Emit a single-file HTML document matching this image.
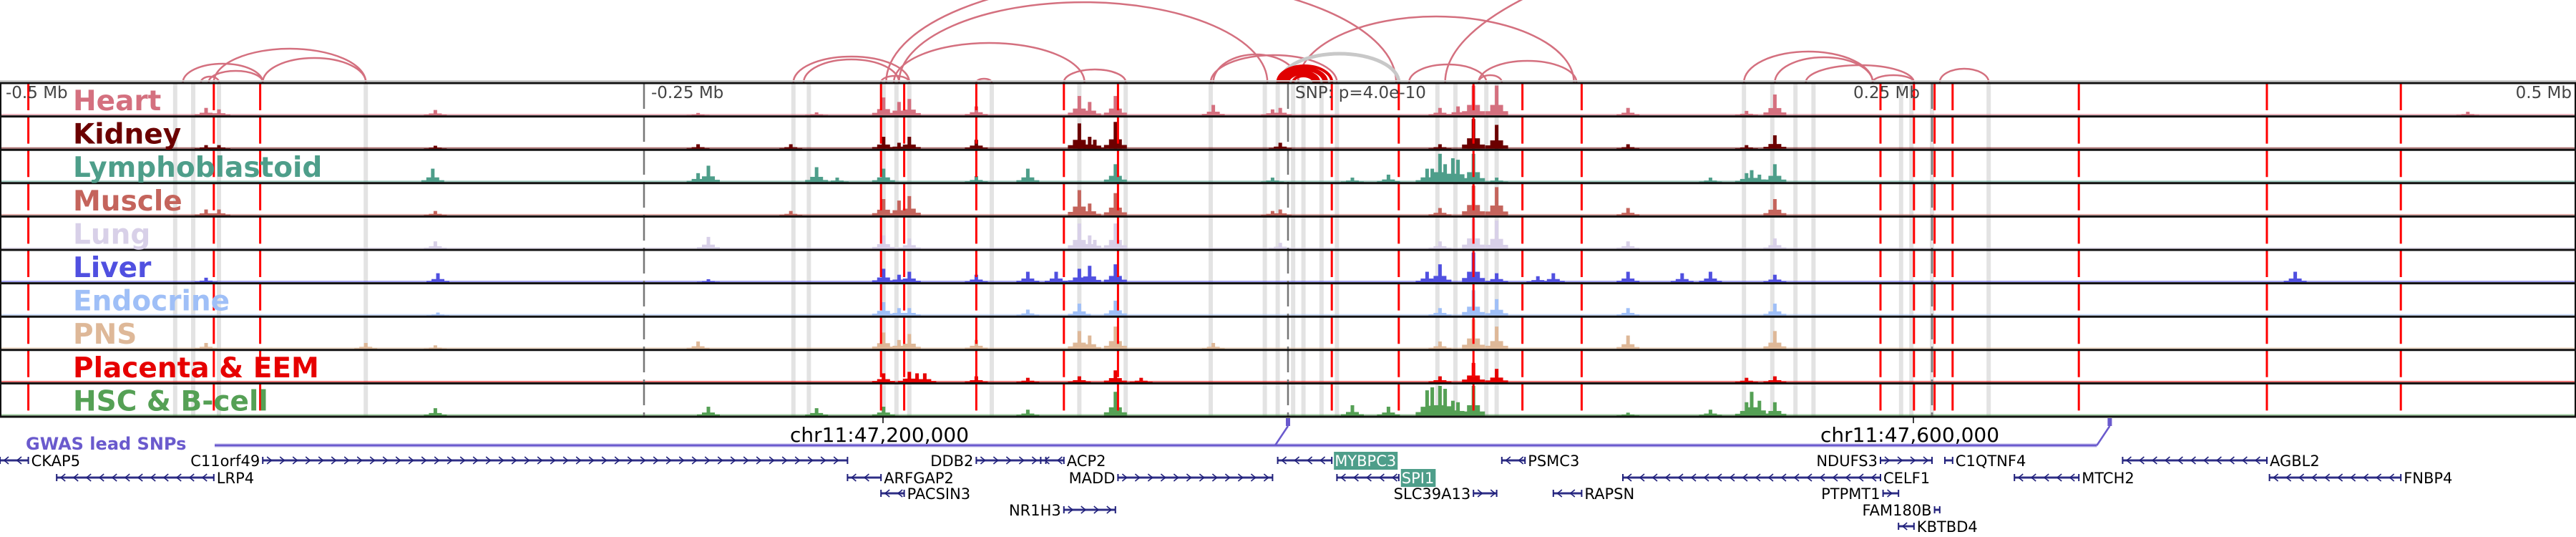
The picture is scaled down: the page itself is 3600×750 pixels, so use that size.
<!DOCTYPE html>
<html><head><meta charset="utf-8">
<style>
html,body{margin:0;padding:0;background:#fff;}
svg{display:block;}
</style></head>
<body>
<svg id="chart" width="3600" height="750" viewBox="0 0 3600 750" xmlns="http://www.w3.org/2000/svg">
<g id="bands"></g>
<g id="tracks"></g>
<g id="vlines"></g>
<g id="arcs"></g>
<g id="frame"></g>
<g id="labels"></g>
<g id="gwas"></g>
<g id="genes"></g>
</svg>
<script>
// ---- data (positions in kb relative to lead SNP) ----
const tissueNames = ["Heart","Kidney","Lymphoblastoid","Muscle","Lung","Liver","Endocrine","PNS","Placenta & EEM","HSC & B-cell"];
const heartPeaks = [[-420,.25],[-415,.2],[-331,.18],[-229,.08],[-183,.1],[-157,.6],[-151,.45],[-147,.55],[-121,.3],[-81,.65],[-77,.45],[-67,.65],[-29,.35],[-6,.2],[-3,.25],[59,.25],[66,.3],[72,1],[81,1],[132,.25],[178,.15],[189,.7],[458,.12]];
const kidneyPeaks = [[-420,.12],[-415,.12],[-331,.1],[-229,.15],[-193,.15],[-157,.4],[-151,.2],[-147,.4],[-121,.3],[-81,.85],[-77,.4],[-75,.3],[-67,.9],[-3,.2],[59,.15],[72,1],[81,.8],[132,.15],[178,.12],[189,.45]];
const lymphoPeaks = [[-332,.45],[-229,.3],[-225,.55],[-183,.5],[-175,.15],[-157,.45],[-121,.2],[-101,.45],[-67,.6],[-6,.15],[25,.15],[39,.25],[54,.45],[56,.45],[59,.95],[61,.6],[64,.8],[66,.75],[72,.95],[81,.15],[164,.15],[178,.3],[180,.4],[183,.25],[189,.6]];
const musclePeaks = [[-420,.2],[-415,.2],[-331,.15],[-193,.15],[-157,.55],[-151,.5],[-147,.65],[-81,.85],[-77,.4],[-67,.75],[-6,.15],[-3,.2],[59,.25],[72,1],[81,.95],[132,.25],[189,.55]];
const lungPeaks = [[-331,.25],[-225,.4],[-157,.45],[-147,.35],[-81,.85],[-77,.45],[-75,.3],[-67,.85],[-3,.2],[59,.25],[72,1],[81,.95],[132,.25],[189,.35]];
const liverPeaks = [[-420,.15],[-330,.3],[-225,.1],[-157,.45],[-151,.25],[-147,.35],[-121,.25],[-101,.35],[-90,.35],[-81,.45],[-77,.55],[-67,.6],[54,.35],[59,.6],[72,1],[81,.3],[97,.2],[103,.3],[132,.35],[153,.3],[164,.35],[189,.25],[391,.35]];
const endocrinePeaks = [[-330,.1],[-157,.45],[-151,.25],[-147,.25],[-101,.2],[-81,.4],[-67,.5],[59,.25],[72,.85],[81,.55],[132,.25],[189,.4]];
const pnsPeaks = [[-420,.2],[-358,.2],[-331,.12],[-229,.25],[-157,.55],[-151,.3],[-147,.5],[-121,.3],[-81,.6],[-77,.45],[-67,.75],[-29,.2],[59,.25],[72,1],[81,.75],[132,.45],[189,.6]];
const placentaPeaks = [[-157,.3],[-147,.35],[-144,.3],[-141,.3],[-121,.2],[-101,.15],[-81,.2],[-67,.4],[-57,.15],[59,.2],[72,.65],[81,.45],[178,.15],[189,.2]];
const hscPeaks = [[-331,.25],[-225,.3],[-183,.25],[-157,.3],[-101,.2],[-67,.8],[25,.35],[39,.3],[54,.85],[56,.95],[59,1],[61,.9],[64,.5],[66,.45],[72,1],[132,.1],[164,.2],[178,.45],[180,.8],[183,.5],[189,.45]];
const allPeaks = [heartPeaks,kidneyPeaks,lymphoPeaks,musclePeaks,lungPeaks,liverPeaks,endocrinePeaks,pnsPeaks,placentaPeaks,hscPeaks];
const tissueColors = ["#d4707f","#6b0000","#4e9e8a","#c4645c","#d8d0e8","#5050e0","#9fbff7","#deb898","#e60000","#55a055"];

const bandPos = [-432,-425,-415,-358,-192,-186,-157,-152,-147,-115,-81,-63,-30,-9,-4,2,6,13,19,58,65,77,81,177,188,197,204,238,242,250,272];
const redLines = [-489,-417,-399,-158,-149,-121,-87,-66,17,43,72,91,114,230,243,251,258,307,380,432];
const tickKb = [-500,-250,0,250,500];
const tickText = ["-0.5 Mb","-0.25 Mb","SNP: p=4.0e-10","0.25 Mb","0.5 Mb"];

const arcStart = [-429,-419,-417,-398,-422,-192,-188,-158,-153,-151,-121,-87,-156,-29,-30,4,61,47,74,74,177,189,201,227,253];
const arcEnd   = [-398,-398,-358,-358,-415,-147,-151,-147,-79,-8,-115,-63,42,4,19,111,1000,77,112,83,227,227,243,243,272];
const arcHeight= [26,16,47,34,8,36,32,9,55,112,5,18,145,39,38,92,330,25,30,10,43,35,24,10,19];
const redArcStart=[-4,-3,-2,-1,0,2];
const redArcEnd  =[17,15,14,12,11,10];
const redArcHeight=[23,20,18,15,12,9];
const grayArcStart=[-3];
const grayArcEnd=[43];
const grayArcHeight=[40];

const snpKb = [0,319];
const genes = [
 ["CKAP5",-500,-489,0,-1,"r"],["C11orf49",-398,-171,0,1,"l"],["DDB2",-121,-94,0,1,"l"],["ACP2",-96,-87,0,-1,"r"],
 ["MYBPC3",-4,17,0,-1,"rbox"],["PSMC3",83,92,0,-1,"r"],["NDUFS3",230,250,0,1,"l"],["C1QTNF4",255,258,0,-1,"r"],["AGBL2",324,380,0,-1,"r"],
 ["LRP4",-478,-417,1,-1,"r"],["ARFGAP2",-171,-158,1,-1,"r"],["MADD",-66,-6,1,1,"l"],["SPI1",19,43,1,-1,"rbox"],
 ["CELF1",130,230,1,-1,"r"],["MTCH2",282,307,1,-1,"r"],["FNBP4",381,432,1,-1,"r"],
 ["PACSIN3",-158,-149,2,-1,"r"],["SLC39A13",72,81,2,1,"l"],["RAPSN",103,114,2,-1,"r"],["PTPMT1",231,237,2,1,"l"],
 ["NR1H3",-87,-67,3,1,"l"],["FAM180B",251,253,3,1,"l"],["KBTBD4",237,243,4,-1,"r"]
];

// ---- scales ----
const xS = kb => 1800 + kb*3.6;
const T0 = 116, TH = 46.6;
const NS = "http://www.w3.org/2000/svg";
function mk(tag, attrs, parent){const e=document.createElementNS(NS,tag);for(const k in attrs)e.setAttribute(k,attrs[k]);parent.appendChild(e);return e;}
const G = id => document.getElementById(id);

bandPos.forEach(kb=>{
  const r=mk('rect',{x:xS(kb)-3,y:T0,width:6,height:TH*10,fill:'#e3e3e3'},G('bands'));
  
  
});
allPeaks.forEach((peaks,i)=>{
  const g=mk('g',{},G('tracks'));
  
  
  const bot=T0+(i+1)*TH-1.5, maxH=TH-5, c=tissueColors[i];
  mk('rect',{x:0,y:bot-2,width:3600,height:2,fill:c,opacity:0.55},g);
  peaks.forEach(p=>{
    const x=xS(p[0]), h=p[1]*maxH;
    const b=mk('rect',{x:x-2.5,y:bot-h,width:5,height:h,fill:c},g);
    
    
    const sh=h*0.35;
    mk('rect',{x:x-9,y:bot-sh,width:18,height:sh,fill:c},g);
    mk('rect',{x:x-16,y:bot-sh*0.4,width:32,height:sh*0.4,fill:c},g);
  });
});
tickKb.forEach(kb=>{
  if(kb===-500||kb===500)return;
  const l=mk('line',{x1:xS(kb),x2:xS(kb),y1:T0,y2:T0+TH*10,stroke:'#777',"stroke-width":2.5,"stroke-dasharray":"36,10"},G('vlines'));
  
  
});
redLines.forEach(kb=>{
  const l=mk('line',{x1:xS(kb),x2:xS(kb),y1:T0,y2:T0+TH*10,stroke:'#ff0000',"stroke-width":3,"stroke-dasharray":"38,8.6"},G('vlines'));
  
  
});
const AB=115;
function arc(s,e,h,col,w,name){
  const x1=xS(s),x2=xS(e),rx=(x2-x1)/2;
  const p=mk('path',{d:`M${x1},${AB} A${rx},${h} 0 0 1 ${x2},${AB}`,fill:'none',stroke:col,"stroke-width":w},G('arcs'));
  
  
}
arcStart.forEach((s,i)=>arc(s,arcEnd[i],arcHeight[i],'#d4707f',2.5,'loop-arc'));
grayArcStart.forEach((s,i)=>arc(s,grayArcEnd[i],grayArcHeight[i],'#c8c8c8',5,'snp-loop-arc'));
redArcStart.forEach((s,i)=>arc(s,redArcEnd[i],redArcHeight[i],'#e00000',4,'snp-red-arc'));
for(let i=0;i<=10;i++){
  const y=T0+i*TH;
  mk('line',{x1:0,x2:3600,y1:y,y2:y,stroke:'#111',"stroke-width":3},G('frame'));
}
mk('line',{x1:1,x2:1,y1:T0,y2:T0+TH*10,stroke:'#111',"stroke-width":2},G('frame'));
mk('line',{x1:3599,x2:3599,y1:T0,y2:T0+TH*10,stroke:'#111',"stroke-width":2},G('frame'));
mk('line',{x1:0,x2:3600,y1:113,y2:113,stroke:'#ccc',"stroke-width":2},G('frame'));
tickText.forEach((t,i)=>{
  let x=xS(tickKb[i])+10, anchor='start';
  if(i===0)x=8; if(i===4){x=3594;anchor='end';}
  if(i===3)x=2590;
  const tx=mk('text',{x:x,y:137,"font-family":"DejaVu Sans, Liberation Sans, sans-serif","font-size":23,fill:'#444',"text-anchor":anchor},G('labels'));
  tx.textContent=t;
  
  
});
tissueNames.forEach((n,i)=>{
  const tx=mk('text',{x:102,y:T0+i*TH+38,"font-family":"DejaVu Sans, Liberation Sans, sans-serif","font-size":39,"font-weight":"bold",fill:tissueColors[i]},G('labels'));
  tx.textContent=n;
  
  
});
const gw=G('gwas');
const gt=mk('text',{x:36,y:628,"font-family":"DejaVu Sans, Liberation Sans, sans-serif","font-size":24,"font-weight":"bold",fill:'#6a5acd'},gw);
gt.textContent="GWAS lead SNPs";


const lastX=xS(snpKb[snpKb.length-1]);
mk('line',{x1:300,x2:lastX-18,y1:622,y2:622,stroke:'#b8b0e8',"stroke-width":5},gw);
mk('line',{x1:300,x2:lastX-18,y1:622,y2:622,stroke:'#6a5acd',"stroke-width":2.5},gw);
snpKb.forEach(kb=>{
  const x=xS(kb);
  mk('path',{d:`M${x-18},622 L${x},595`,stroke:'#6a5acd',"stroke-width":2.5,fill:'none'},gw);
  const r=mk('rect',{x:x-3,y:584,width:6,height:11,fill:'#6a5acd'},gw);
  
  
});
[["chr11:47,200,000",1104,1234],["chr11:47,600,000",2544,2674]].forEach(c=>{
  const t=mk('text',{x:c[1],y:617,"font-family":"DejaVu Sans, Liberation Sans, sans-serif","font-size":28,fill:'#000'},gw);
  t.textContent=c[0];
  
  
  mk('line',{x1:c[2],x2:c[2],y1:582,y2:591,stroke:'#000',"stroke-width":1.5},gw);
});
const rowY=[643,667,689,712,735];
genes.forEach(g=>{
  const [name,s,e,row,strand,lab]=g;
  const y=rowY[row], x1=xS(s), x2=xS(e);
  const grp=mk('g',{},G('genes'));
  
  
  mk('line',{x1:x1,x2:x2,y1:y,y2:y,stroke:'#9a9ac8',"stroke-width":4},grp);
  mk('line',{x1:x1,x2:x2,y1:y,y2:y,stroke:'#1f1f7a',"stroke-width":1.8},grp);
  mk('line',{x1:x1,x2:x1,y1:y-5,y2:y+5,stroke:'#1f1f7a',"stroke-width":2},grp);
  mk('line',{x1:x2,x2:x2,y1:y-5,y2:y+5,stroke:'#1f1f7a',"stroke-width":2},grp);
  let d='';
  for(let x=x1+9;x<x2-4;x+=18){
    d+= strand>0?`M${x-3},${y-5} L${x+3},${y} L${x-3},${y+5} `:`M${x+3},${y-5} L${x-3},${y} L${x+3},${y+5} `;
  }
  if(d)mk('path',{d:d,fill:'none',stroke:'#1f1f7a',"stroke-width":1.6},grp);
  const box=lab==='rbox';
  const tx=lab==='l'?x1-4:x2+4;
  const t=mk('text',{x:tx,y:y+8,"font-family":"DejaVu Sans, Liberation Sans, sans-serif","font-size":21,fill:box?'#fff':'#000',"text-anchor":lab==='l'?'end':'start'},grp);
  t.textContent=name;
  if(box){
    const w=t.getComputedTextLength?t.getComputedTextLength():name.length*13;
    const r=document.createElementNS(NS,'rect');
    r.setAttribute('x',tx-1);r.setAttribute('y',y-12);r.setAttribute('width',w+3);r.setAttribute('height',25);r.setAttribute('fill','#4e9e8a');
    grp.insertBefore(r,t);
  }
});
</script>
</body></html>
